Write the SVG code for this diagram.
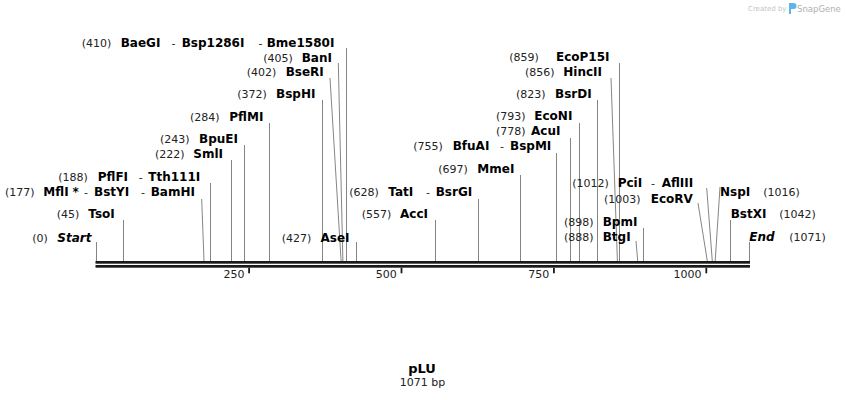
<svg xmlns="http://www.w3.org/2000/svg" width="846" height="400" viewBox="0 0 846 400">
<style>
text{font-family:"DejaVu Sans","Liberation Sans",sans-serif}
.n{font-size:11px;fill:#222}
.b{font-size:12px;font-weight:bold;fill:#000}
.bi{font-size:12px;font-weight:bold;font-style:italic;fill:#000}
.ln{stroke:#858585;stroke-width:1;fill:none}
.t{font-size:11px;fill:#222;text-anchor:end}
.bb{fill:#1a1a1a}
</style>
<rect width="846" height="400" fill="#fff"/>
<g id="logo">
<text x="748" y="11" style="font-size:7px;fill:#c4c4c4">Created by</text>
<path d="M789 3h4.5a3 3 0 0 1 0 6h-2.5v5h-2z" fill="#5fb4e8"/>
<text x="797" y="12" style="font-size:8.5px;fill:#b0b0b0">SnapGene</text>
</g>
<g id="backbone">
<rect class="bb" x="95.5" y="261" width="654.5" height="2.7"/>
<rect class="bb" x="95.5" y="265" width="654.5" height="2.7"/>
<rect class="bb" x="248.2" y="267.7" width="1.8" height="5.6"/>
<rect class="bb" x="400.6" y="267.7" width="1.8" height="5.6"/>
<rect class="bb" x="553" y="267.7" width="1.8" height="5.6"/>
<rect class="bb" x="705.4" y="267.7" width="1.8" height="5.6"/>
<text class="t" x="244.5" y="277.7">250</text>
<text class="t" x="396.8" y="277.7">500</text>
<text class="t" x="549.2" y="277.7">750</text>
<text class="t" x="701.5" y="277.7">1000</text>
</g>
<g id="connectors">
<line class="ln" x1="96.5" y1="242" x2="96.5" y2="261"/>
<line class="ln" x1="123.5" y1="220" x2="123.5" y2="261"/>
<line class="ln" x1="201.7" y1="199" x2="204" y2="261"/>
<line class="ln" x1="210.5" y1="183" x2="210.5" y2="261"/>
<line class="ln" x1="231.5" y1="160" x2="231.5" y2="261"/>
<line class="ln" x1="244.5" y1="145" x2="244.5" y2="261"/>
<line class="ln" x1="269.5" y1="123" x2="269.5" y2="261"/>
<line class="ln" x1="322.5" y1="100" x2="322.5" y2="261"/>
<line class="ln" x1="330" y1="78" x2="341.1" y2="261"/>
<line class="ln" x1="338.3" y1="63" x2="342.9" y2="261"/>
<line class="ln" x1="346.5" y1="48" x2="346.5" y2="261"/>
<line class="ln" x1="356.5" y1="242" x2="356.5" y2="261"/>
<line class="ln" x1="435.5" y1="220" x2="435.5" y2="261"/>
<line class="ln" x1="478.5" y1="199" x2="478.5" y2="261"/>
<line class="ln" x1="520.5" y1="175" x2="520.5" y2="261"/>
<line class="ln" x1="556.5" y1="153" x2="556.5" y2="261"/>
<line class="ln" x1="570.5" y1="138" x2="570.5" y2="261"/>
<line class="ln" x1="579.5" y1="123" x2="579.5" y2="261"/>
<line class="ln" x1="597.5" y1="100" x2="597.5" y2="261"/>
<line class="ln" x1="611" y1="78" x2="617.4" y2="261"/>
<line class="ln" x1="619.5" y1="63" x2="619.5" y2="261"/>
<line class="ln" x1="636" y1="241" x2="637.7" y2="261"/>
<line class="ln" x1="643.5" y1="228" x2="643.5" y2="261"/>
<line class="ln" x1="698" y1="203" x2="707.3" y2="261"/>
<line class="ln" x1="706.7" y1="188" x2="712.3" y2="261"/>
<line class="ln" x1="720" y1="187" x2="715.2" y2="261"/>
<line class="ln" x1="730.5" y1="220" x2="730.5" y2="261"/>
<line class="ln" x1="749.5" y1="242" x2="749.5" y2="261"/>
</g>
<g id="start"><text y="241.7"><tspan class="n" x="32.3">(0)</tspan><tspan class="bi" x="57.3">Start</tspan></text></g>
<g id="TsoI"><text y="218.3"><tspan class="n" x="56.7">(45)</tspan><tspan class="b" x="88.3">TsoI</tspan></text></g>
<g id="MflI"><text y="195.7"><tspan class="n" x="5">(177)</tspan><tspan class="b" x="43.3">MflI</tspan><tspan class="b" x="72.5">*</tspan><tspan class="n" x="84">-</tspan><tspan class="b" x="94">BstYI</tspan><tspan class="n" x="141">-</tspan><tspan class="b" x="150.7">BamHI</tspan></text></g>
<g id="PflFI"><text y="181"><tspan class="n" x="58.3">(188)</tspan><tspan class="b" x="97.7">PflFI</tspan><tspan class="n" x="138.7">-</tspan><tspan class="b" x="148.3">Tth111I</tspan></text></g>
<g id="SmlI"><text y="158.3"><tspan class="n" x="155">(222)</tspan><tspan class="b" x="193.3">SmlI</tspan></text></g>
<g id="BpuEI"><text y="143.3"><tspan class="n" x="160">(243)</tspan><tspan class="b" x="199">BpuEI</tspan></text></g>
<g id="PflMI"><text y="120.7"><tspan class="n" x="190">(284)</tspan><tspan class="b" x="229.3">PflMI</tspan></text></g>
<g id="BspHI"><text y="98.3"><tspan class="n" x="237.3">(372)</tspan><tspan class="b" x="276">BspHI</tspan></text></g>
<g id="BseRI"><text y="76"><tspan class="n" x="246.7">(402)</tspan><tspan class="b" x="285.7">BseRI</tspan></text></g>
<g id="BanI"><text y="61.7"><tspan class="n" x="263.3">(405)</tspan><tspan class="b" x="301.7">BanI</tspan></text></g>
<g id="BaeGI"><text y="46.5"><tspan class="n" x="81.7">(410)</tspan><tspan class="b" x="120.7">BaeGI</tspan><tspan class="n" x="171.5">-</tspan><tspan class="b" x="181.7">Bsp1286I</tspan><tspan class="n" x="258.5">-</tspan><tspan class="b" x="266.7">Bme1580I</tspan></text></g>
<g id="AseI"><text y="241.7"><tspan class="n" x="281.7">(427)</tspan><tspan class="b" x="320.5">AseI</tspan></text></g>
<g id="AccI"><text y="218"><tspan class="n" x="361.7">(557)</tspan><tspan class="b" x="400">AccI</tspan></text></g>
<g id="TatI"><text y="195.7"><tspan class="n" x="349.3">(628)</tspan><tspan class="b" x="388.3">TatI</tspan><tspan class="n" x="426">-</tspan><tspan class="b" x="435.7">BsrGI</tspan></text></g>
<g id="MmeI"><text y="172.7"><tspan class="n" x="438.3">(697)</tspan><tspan class="b" x="477.3">MmeI</tspan></text></g>
<g id="BfuAI"><text y="150"><tspan class="n" x="413.3">(755)</tspan><tspan class="b" x="452.7">BfuAI</tspan><tspan class="n" x="500">-</tspan><tspan class="b" x="510">BspMI</tspan></text></g>
<g id="AcuI"><text y="135"><tspan class="n" x="496">(778)</tspan><tspan class="b" x="531">AcuI</tspan></text></g>
<g id="EcoNI"><text y="120"><tspan class="n" x="496">(793)</tspan><tspan class="b" x="534.3">EcoNI</tspan></text></g>
<g id="BsrDI"><text y="98.3"><tspan class="n" x="516">(823)</tspan><tspan class="b" x="555">BsrDI</tspan></text></g>
<g id="HincII"><text y="75.7"><tspan class="n" x="525">(856)</tspan><tspan class="b" x="563.3">HincII</tspan></text></g>
<g id="EcoP15I"><text y="61"><tspan class="n" x="509.3">(859)</tspan><tspan class="b" x="556">EcoP15I</tspan></text></g>
<g id="PciI"><text y="187.3"><tspan class="n" x="572.3">(1012)</tspan><tspan class="b" x="617.7">PciI</tspan><tspan class="n" x="651">-</tspan><tspan class="b" x="661.7">AflIII</tspan></text></g>
<g id="EcoRV"><text y="203.3"><tspan class="n" x="604">(1003)</tspan><tspan class="b" x="650.7">EcoRV</tspan></text></g>
<g id="BpmI"><text y="225.5"><tspan class="n" x="564">(898)</tspan><tspan class="b" x="602.7">BpmI</tspan></text></g>
<g id="BtgI"><text y="240.7"><tspan class="n" x="564">(888)</tspan><tspan class="b" x="602.7">BtgI</tspan></text></g>
<g id="NspI"><text y="195.7"><tspan class="b" x="720">NspI</tspan><tspan class="n" x="763.3">(1016)</tspan></text></g>
<g id="BstXI"><text y="217.7"><tspan class="b" x="730.7">BstXI</tspan><tspan class="n" x="779.3">(1042)</tspan></text></g>
<g id="end"><text y="240.7"><tspan class="bi" x="749.3">End</tspan><tspan class="n" x="789.3">(1071)</tspan></text></g>
<g id="title">
<text x="422" y="373.3" text-anchor="middle" style="font-size:13px;font-weight:bold;fill:#000">pLU</text>
<text x="422.5" y="386" text-anchor="middle" class="n">1071 bp</text>
</g>
</svg>
